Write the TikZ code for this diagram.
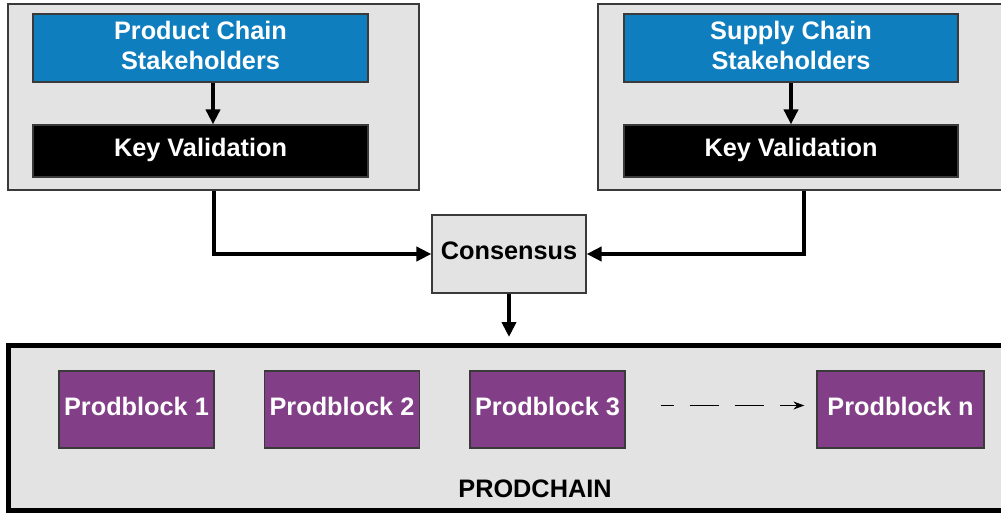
\documentclass[tikz,border=0pt]{standalone}
\usepackage{fontspec}
\setmainfont{Liberation Sans}
\usetikzlibrary{arrows.meta, positioning}
\definecolor{panelgray}{HTML}{E3E3E3}
\definecolor{holderblue}{HTML}{0F7EBE}
\definecolor{blockpurple}{HTML}{823F87}
\definecolor{edgegray}{HTML}{3A3A3A}
\tikzstyle{panel} = [rectangle, draw=edgegray, line width=1.5pt, fill=panelgray, inner sep=0pt]
\tikzstyle{holder} = [rectangle, minimum width=335pt, minimum height=68pt, align=center, text centered, draw=edgegray, line width=1.2pt, fill=holderblue, text=white]
\tikzstyle{keyval} = [rectangle, minimum width=335pt, minimum height=52pt, text depth=7pt, text centered, draw=edgegray, line width=1.2pt, fill=black, text=white]
\tikzstyle{consensus} = [rectangle, minimum width=154pt, minimum height=78pt, text depth=7pt, text centered, draw=edgegray, line width=1.2pt, fill=panelgray]
\tikzstyle{prodblock} = [rectangle, minimum width=155pt, minimum height=77pt, text depth=7pt, text centered, draw=edgegray, line width=1.2pt, fill=blockpurple, text=white]
\tikzstyle{arrow} = [line width=4pt, -{Triangle[length=15pt, width=14pt]}]
\tikzstyle{dasharrow} = [line width=1.3pt, dash pattern=on 29pt off 16pt, dash phase=16pt, -{Stealth[length=11pt, width=8pt]}]

\begin{document}
\begin{tikzpicture}[x=1pt, y=-1pt, font=\fontsize{25.3}{30}\selectfont\bfseries]
\useasboundingbox (0,0) rectangle (1001,516);
\clip (0,0) rectangle (1001,516);

% upper panels
\node (pcpanel) [panel, minimum width=411pt, minimum height=186pt] at (213.5,97) {};
\node (scpanel) [panel, minimum width=412pt, minimum height=186pt] at (804,97) {};

\node (pcholder) [holder] at (200.5,48) {Product Chain\\Stakeholders\rule[-6pt]{0pt}{6pt}};
\node (pckey) [keyval] at (200.5,151) {Key Validation};
\node (scholder) [holder, minimum width=334pt] at (791,48) {Supply Chain\\Stakeholders\rule[-6pt]{0pt}{6pt}};
\node (sckey) [keyval, minimum width=334pt] at (791,151) {Key Validation};

\node (cons) [consensus] at (509,254) {Consensus};

% the chain
\node (chain) [rectangle, draw=black, line width=5pt, fill=panelgray, minimum width=1001.5pt, minimum height=165pt] at (509,428) {};
\node (pb1) [prodblock] at (136.5,409.5) {Prodblock 1};
\node (pb2) [prodblock] at (342,409.5) {Prodblock 2};
\node (pb3) [prodblock] at (547.5,409.5) {Prodblock 3};
\node (pbn) [prodblock, minimum width=167pt] at (900.5,409.5) {Prodblock n};
\node (chainlabel) at (535,488.5) {PRODCHAIN};

\draw [arrow] ([xshift=12.5pt]pcholder.south) -- ([xshift=12.5pt]pckey.north);
\draw [arrow] (scholder) -- (sckey);
\draw [arrow] (pcpanel.south) |- (cons.west);
\draw [arrow] (scpanel.south) |- (cons.east);
\draw [arrow, shorten >=6pt] (cons) -- (cons |- chain.north);
\draw [dasharrow] ([xshift=35pt, yshift=4pt]pb3.east) -- ([xshift=-12pt, yshift=4pt]pbn.west);

\end{tikzpicture}
\end{document}
